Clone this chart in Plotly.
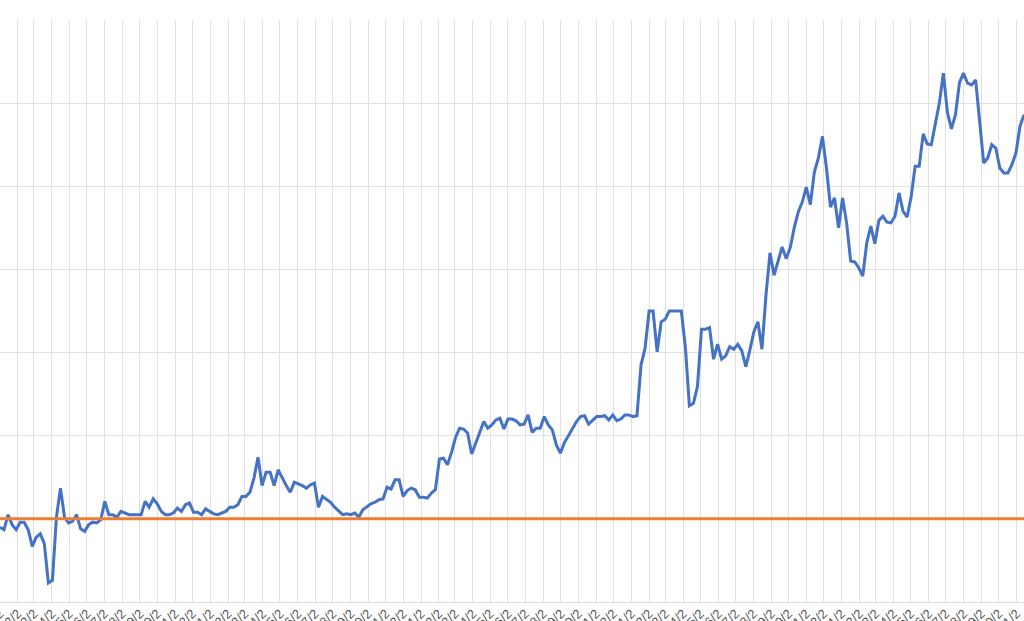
import pandas as pd
import plotly.graph_objects as go

# weekly index level, first week = 2015/1/2
start_date = "2015-01-02"
index_level = [
    90, 87, 105, 93, 87, 96, 96, 87, 67, 78, 82, 70, 23, 26, 102, 137, 102, 95, 97, 105,
    88, 85, 93, 96, 95, 99, 121, 105, 105, 102, 109, 107, 105, 105, 105, 105, 121, 114, 124, 118,
    109, 105, 105, 107, 113, 109, 117, 119, 108, 108,
    105, 112, 109, 106, 105, 107, 109, 114, 114, 117, 127, 127, 132, 149, 174, 140, 156, 156, 140, 159,
    149, 140, 132, 144, 142, 140, 137, 141, 143, 114, 127, 124, 120, 114, 109, 105, 106, 105, 107, 102,
    111, 115, 118, 120, 123, 124, 138, 136, 147, 147, 127, 134, 137, 135, 126, 126, 125, 131, 135, 172,
    173, 165, 180, 198, 209, 208, 203, 178, 191, 202, 217, 209, 213, 219, 221, 208, 220, 220, 218, 213,
    214, 225, 204, 209, 209, 223, 213, 207, 189, 179, 192, 200, 208, 217, 223, 224, 214, 218, 223, 223,
    224, 219, 225, 218, 220, 225, 225, 223, 224, 285, 305, 350, 350, 301, 337, 340, 350, 350, 350, 350,
    307, 236, 239, 259, 328, 328, 330, 292, 310, 292, 296, 307, 304, 310, 302, 283, 303, 325, 337, 304,
    369, 420, 393, 411, 427, 413, 426, 450, 469, 481, 499, 478, 517, 534, 560, 522, 475, 486, 450, 486,
    456, 410, 409, 402, 392, 432, 452, 431, 459, 464, 457, 456, 464, 492, 470, 463, 487, 524, 524, 563,
    551, 550, 574, 600, 636, 589, 569, 586, 625, 636, 624, 622, 628, 577, 528, 534, 550, 546, 522, 516,
    516, 526, 540, 572, 586,
]
baseline_level = 100

dates = pd.date_range(start_date, periods=len(index_level), freq="7D")
baseline = [baseline_level] * len(dates)

fig = go.Figure()
fig.add_trace(go.Scatter(
    x=dates, y=index_level, mode="lines",
    line=dict(color="#4472c4", width=3), name="Index",
))
fig.add_trace(go.Scatter(
    x=dates, y=baseline, mode="lines",
    line=dict(color="#ed7d31", width=3), name="Base",
))

fig.update_layout(
    width=1024, height=621,
    margin=dict(l=0, r=0, t=20, b=19),
    paper_bgcolor="white", plot_bgcolor="white",
    showlegend=False,
    font=dict(family="Liberation Sans", size=13, color="#595959"),
)
fig.update_xaxes(
    type="date", range=[dates[0], dates[-1]],
    tick0=start_date, dtick="M1", tickformat="%Y/%-m/%-d", tickangle=-45,
    ticklabeloverflow="allow", ticklabelstandoff=-2,
    showgrid=True, gridcolor="#e0e0e0", gridwidth=1,
    showline=True, linecolor="#d9d9d9", linewidth=1,
    ticks="", automargin=False, zeroline=False,
)
fig.update_yaxes(
    range=[0, 700], dtick=100,
    showgrid=True, gridcolor="#e0e0e0", gridwidth=1,
    showticklabels=False, zeroline=False, automargin=False,
)

# page body has a default 8px margin; drop it so the chart fills the window
fig.write_html(
    "out.html",
    config={"displayModeBar": False},
    post_script="document.body.style.margin='0';",
)
